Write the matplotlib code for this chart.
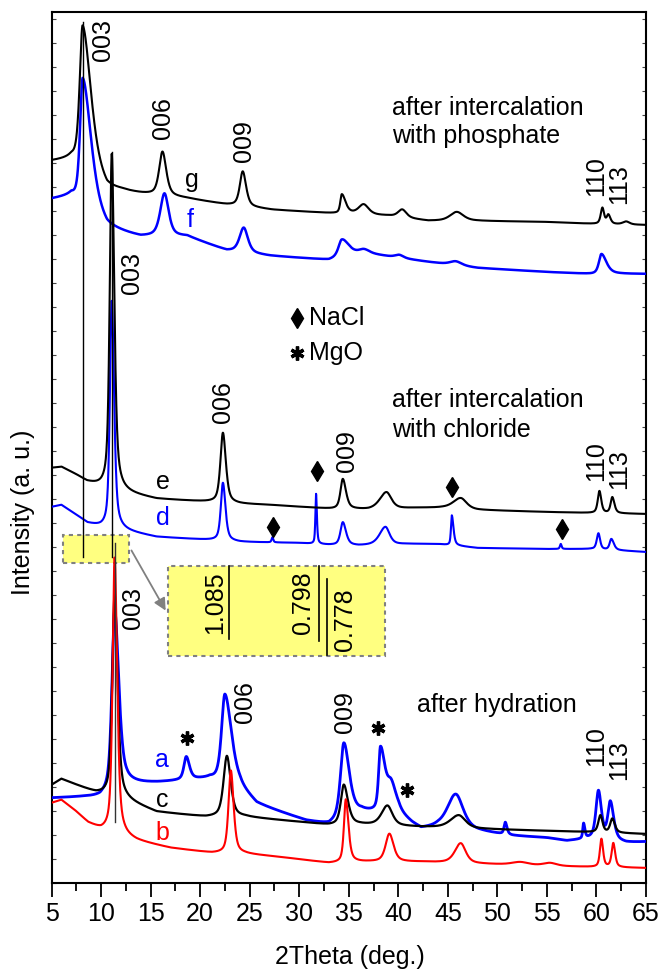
import numpy as np
import matplotlib
matplotlib.use("Agg")
import matplotlib.pyplot as plt
from matplotlib.patches import Rectangle, FancyArrowPatch

plt.rcParams['font.family'] = ['Liberation Sans', 'DejaVu Sans']

# ---------------- data ----------------
two_theta = np.linspace(5, 65, 3001)

# phosphate-intercalated (g: black, f: blue)
g_base_x = [5, 7, 8.1, 10.6, 12, 14, 18.7, 22.7, 27.3, 32.7, 39, 43, 48, 55, 59.9, 65]
g_base_y = [722, 724, 715, 690, 690, 688, 684, 678, 673, 670, 667, 662, 662, 661, 659, 658]
g_peaks = [(8.14, 143, 0.35, 1.0), (16.2, 44, 0.4, 0.45), (24.3, 35, 0.35, 0.4),
           (34.3, 19, 0.18, 0.45), (36.5, 10, 0.6, 0.6), (40.4, 8, 0.5, 0.5),
           (45.9, 9, 0.8, 0.8), (60.6, 16, 0.2, 0.2), (61.2, 9, 0.2, 0.25), (63.0, 3, 0.4, 0.4)]

f_base_x = [5, 7, 8.15, 10.6, 14, 18.7, 22.7, 27, 33, 35, 37, 40, 43, 48, 55, 59.5, 65]
f_base_y = [684, 687, 675, 652, 645, 646, 632, 627, 623, 628, 629, 625, 621, 615, 611, 609, 609]
f_peaks = [(8.15, 130, 0.32, 1.0), (16.4, 43, 0.5, 0.5), (24.4, 25, 0.5, 0.5),
           (34.3, 17, 0.4, 0.8), (36.5, 4, 0.6, 0.6), (40.1, 3, 0.5, 0.5),
           (45.8, 4, 0.7, 0.7), (60.5, 20, 0.3, 0.6)]

# chloride-intercalated (e: black, d: blue)
e_base_x = [5, 6, 7.5, 8.6, 10, 12.3, 15.6, 21, 24, 27, 33.3, 37, 42, 44.4, 48, 55, 59.5, 65]
e_base_y = [415, 416, 408, 401, 396, 390, 384, 381, 379, 378, 374, 373, 375, 375, 373, 371, 370, 369]
e_peaks = [(11.08, 336, 0.24, 0.3), (22.3, 70, 0.3, 0.35), (34.4, 30, 0.28, 0.38),
           (38.8, 17, 0.8, 0.6), (46.3, 11, 0.9, 0.7), (60.3, 22, 0.2, 0.22), (61.6, 16, 0.2, 0.25)]

d_base_x = [5, 6, 7.5, 8.6, 10, 12.3, 15.6, 21, 24, 30, 33, 36, 41, 44, 48, 55, 59.5, 65]
d_base_y = [376, 378, 368, 360, 356, 352, 346, 343, 341, 340, 338, 337, 339, 339, 335, 334, 334, 331]
d_peaks = [(11.08, 228, 0.22, 0.28), (22.3, 58, 0.25, 0.3), (27.3, 5, 0.1, 0.1),
           (31.7, 50, 0.08, 0.1), (34.4, 23, 0.28, 0.38), (38.7, 18, 0.7, 0.5),
           (45.4, 30, 0.1, 0.2), (56.4, 5, 0.1, 0.1), (60.2, 16, 0.2, 0.2), (61.5, 11, 0.2, 0.3)]

# after hydration (a: blue, c: black, b: red)
a_base_x = [5, 8, 9.9, 12.6, 15.7, 18, 21, 24, 25.7, 30.7, 33, 36.3, 40, 41.4, 42.3, 44, 48.4, 51.5, 55, 57, 59.5, 63, 65]
a_base_y = [85, 86, 86, 98, 100, 102, 104, 93, 78, 62, 58, 70, 68, 58, 53, 55, 51, 47, 45, 42, 44, 40, 41]
a_peaks = [(11.37, 180, 0.32, 0.5), (18.6, 23, 0.28, 0.38), (22.5, 90, 0.4, 0.8),
           (34.5, 76, 0.4, 0.65), (38.2, 63, 0.22, 0.55), (39.3, 25, 0.5, 0.6),
           (45.8, 35, 1.0, 0.9), (50.8, 12, 0.15, 0.2), (58.7, 15, 0.1, 0.15),
           (60.2, 48, 0.3, 0.35), (61.4, 38, 0.3, 0.4)]

c_base_x = [5, 6, 8, 9.5, 11.3, 12.6, 15.6, 20.6, 24.5, 30, 33, 36.2, 42, 48.5, 59, 65]
c_base_y = [98, 104, 96, 90, 86, 82, 71, 66, 66, 61, 58, 58, 56, 54, 51, 49]
c_peaks = [(11.37, 203, 0.28, 0.35), (22.7, 61, 0.4, 0.45), (34.5, 40, 0.35, 0.5),
           (38.9, 20, 0.7, 0.6), (46.1, 13, 1.0, 0.8), (60.4, 17, 0.25, 0.25), (61.6, 14, 0.25, 0.3)]

b_base_x = [5, 6, 7.3, 8.7, 10, 11.3, 12.6, 13.6, 17, 21.2, 24.5, 28, 33, 37, 42, 48.5, 55, 59.5, 65]
b_base_y = [80, 83, 73, 60, 53, 50, 45, 42, 35, 30, 29, 26, 20, 21, 21, 19, 17, 16, 15]
b_peaks = [(11.37, 276, 0.24, 0.3), (23.1, 83, 0.28, 0.33), (34.7, 63, 0.22, 0.32),
           (39.1, 28, 0.45, 0.5), (46.3, 20, 0.7, 0.6), (52.3, 3, 1.0, 1.0),
           (55.3, 3, 0.8, 0.8), (60.5, 28, 0.18, 0.2), (61.7, 24, 0.2, 0.22)]

# d-spacing (nm) marks
d_spacings = ['1.085', '0.798', '0.778']
ref_angles = [8.14, 11.08, 11.37]


def profile(x, c, a, wl, wr, eta=0.6):
    w = np.where(x < c, wl, wr)
    u = (x - c) / w
    return a * (eta / (1 + u ** 2) + (1 - eta) * np.exp(-np.log(2) * u ** 2))


def build(bx, by, peaks):
    y = np.interp(two_theta, bx, by)
    for c, a, wl, wr in peaks:
        y = y + profile(two_theta, c, a, wl, wr)
    return y


BLUE = '#0000FF'
RED = '#FF0000'
BLACK = '#000000'

fig = plt.figure(figsize=(6.62, 9.71), dpi=100)
ax = fig.add_axes([51.5 / 662, (971 - 883) / 971, (646 - 51.5) / 662, (883 - 12) / 971])
ax.set_xlim(5, 65)
ax.set_ylim(0, 871)

fs = 18

# yellow boxes (under curves)
ax.add_patch(Rectangle((6.16, 320), 12.83 - 6.16, 28, facecolor='#FFFF80', edgecolor='#808080',
                       linestyle=(0, (2, 2)), linewidth=1.5, zorder=1))
ax.add_patch(Rectangle((16.76, 227), 38.65 - 16.76, 90, facecolor='#FFFF80', edgecolor='#808080',
                       linestyle=(0, (2, 2)), linewidth=1.5, zorder=1))

# curves
curves = [
    (f_base_x, f_base_y, f_peaks, BLUE, 1.8),
    (g_base_x, g_base_y, g_peaks, BLACK, 1.5),
    (d_base_x, d_base_y, d_peaks, BLUE, 1.5),
    (e_base_x, e_base_y, e_peaks, BLACK, 1.5),
    (a_base_x, a_base_y, a_peaks, BLUE, 2.0),
    (c_base_x, c_base_y, c_peaks, BLACK, 1.6),
    (b_base_x, b_base_y, b_peaks, RED, 1.5),
]
for bx, by, pk, col, lw in curves:
    ax.plot(two_theta, build(bx, by, pk), color=col, lw=lw, zorder=3)

# reference vertical lines
ax.plot([ref_angles[0]] * 2, [326, 861], color=BLACK, lw=1.0, zorder=4)
ax.plot([ref_angles[1]] * 2, [326, 731], color=BLACK, lw=1.0, zorder=4)
ax.plot([ref_angles[2]] * 2, [61, 340], color='#333333', lw=1.0, zorder=4)

# zoomed box content
ax.text(21.5, 280, d_spacings[0], rotation=90, ha='center', va='center', fontsize=fs, zorder=5)
ax.plot([22.9, 22.9], [244, 317], color=BLACK, lw=1.2, zorder=5)
ax.text(30.4, 280, d_spacings[1], rotation=90, ha='center', va='center', fontsize=fs, zorder=5)
ax.plot([32.0, 32.0], [242, 317], color=BLACK, lw=1.2, zorder=5)
ax.plot([32.8, 32.8], [228, 304], color=BLACK, lw=1.2, zorder=5)
ax.text(34.6, 263, d_spacings[2], rotation=90, ha='center', va='center', fontsize=fs, zorder=5)

ax.add_patch(FancyArrowPatch((12.93, 335), (16.66, 270), arrowstyle='-|>', mutation_scale=18,
                             color='#808080', lw=1.3, zorder=5))

# reflection labels
def rlabel(x, y, s, color=BLACK):
    ax.text(x, y, s, rotation=90, ha='center', va='center', fontsize=fs, color=color, zorder=6)

rlabel(10.2, 843, '003'); rlabel(16.25, 765, '006'); rlabel(24.43, 742, '009')
rlabel(60.0, 707, '110'); rlabel(62.3, 699, '113')
rlabel(13.13, 610, '003'); rlabel(22.31, 481, '006'); rlabel(34.82, 432, '009')
rlabel(60.0, 422, '110'); rlabel(62.3, 414, '113')
rlabel(13.23, 275, '003'); rlabel(24.53, 181, '006'); rlabel(34.62, 171, '009')
rlabel(60.0, 137, '110'); rlabel(62.3, 123, '113')

# curve letters
for x, y, s, col in [(19.18, 703, 'g', BLACK), (18.98, 663, 'f', BLUE),
                     (16.25, 401, 'e', BLACK), (16.25, 365, 'd', BLUE),
                     (16.15, 123, 'a', BLUE), (16.15, 83, 'c', BLACK), (16.15, 50, 'b', RED)]:
    ax.text(x, y, s, ha='center', va='center', fontsize=fs, color=col, zorder=6)

# section titles
ax.text(39.36, 768, 'after intercalation', fontsize=fs, va='baseline', ha='left')
ax.text(39.36, 740, 'with phosphate', fontsize=fs, va='baseline', ha='left')
ax.text(39.36, 476, 'after intercalation', fontsize=fs, va='baseline', ha='left')
ax.text(39.36, 446, 'with chloride', fontsize=fs, va='baseline', ha='left')
ax.text(41.88, 171, 'after hydration', fontsize=fs, va='baseline', ha='left')

# phase markers
nacl_x = [31.79, 27.35, 45.41, 56.51]
nacl_y = [412, 356, 396, 354]
mgo_x = [18.67, 37.95, 40.87]
mgo_y = [145, 155, 93]
ax.plot(nacl_x, nacl_y, linestyle='none', marker='d', markersize=10, color=BLACK, zorder=6)
ax.plot(mgo_x, mgo_y, linestyle='none', marker=(6, 2, 0), markersize=10, mew=2.4, color=BLACK, zorder=6)
ax.plot([29.77], [565], linestyle='none', marker='d', markersize=10, color=BLACK)
ax.plot([29.77], [530], linestyle='none', marker=(6, 2, 0), markersize=10, mew=2.4, color=BLACK)
ax.text(30.98, 565, 'NaCl', fontsize=fs, va='center', ha='left')
ax.text(30.98, 530, 'MgO', fontsize=fs, va='center', ha='left')

# axes styling
ax.set_xticks(np.arange(5, 66, 5))
ax.set_xticks(np.arange(7.5, 65, 5), minor=True)
ax.set_yticks(np.arange(0, 871, 24))
ax.tick_params(axis='x', which='major', direction='out', length=10, width=1.3, labelsize=fs, pad=4,
               top=False)
ax.tick_params(axis='x', which='minor', direction='out', length=6, width=1.3, top=False)
ax.tick_params(axis='y', which='major', direction='in', length=3, width=0.8, left=True, right=True,
               labelleft=False, color='#444444')
for s in ax.spines.values():
    s.set_linewidth(1.5)

fig.text(350 / 662, 1 - 957 / 971, '2Theta (deg.)', ha='center', va='center', fontsize=fs)
fig.text(23 / 662, 1 - 512 / 971, 'Intensity (a. u.)', ha='center', va='center', fontsize=fs, rotation=90)

fig.savefig('out.png', dpi=100)
